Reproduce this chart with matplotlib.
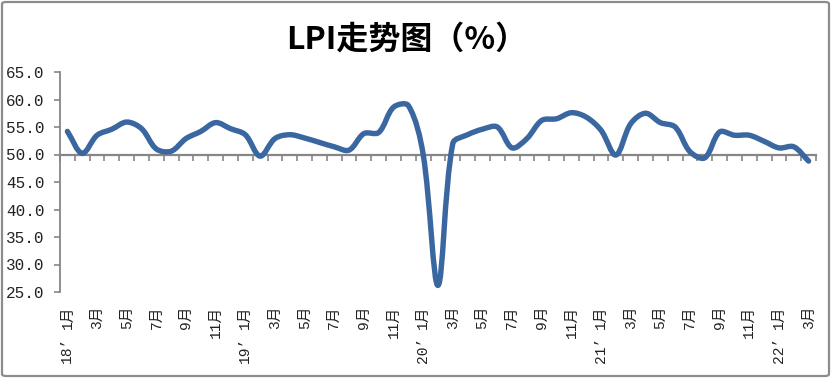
import matplotlib
matplotlib.use("Agg")
import matplotlib.pyplot as plt
import numpy as np
from matplotlib.path import Path
from matplotlib.patches import PathPatch, FancyBboxPatch

# ---------------- data ----------------
years = ["18", "19", "20", "21", "22"]
months_per_year = [12, 12, 12, 12, 3]
lpi = [54.2, 50.2, 53.5, 54.6, 55.9, 54.7, 51.0, 50.6, 52.9, 54.2, 55.8, 54.7,   # 2018
       53.6, 49.7, 52.9, 53.6, 53.0, 52.2, 51.4, 50.8, 53.8, 54.0, 58.6, 58.9,   # 2019
       50.0, 26.2, 52.0, 53.6, 54.6, 55.0, 51.2, 52.9, 56.2, 56.5, 57.6, 56.8,   # 2020
       54.4, 49.9, 55.6, 57.5, 55.8, 55.0, 50.5, 49.4, 54.1, 53.5, 53.5, 52.4,   # 2021
       51.2, 51.4, 48.8]                                                         # 2022
y_ticks = [25.0, 30.0, 35.0, 40.0, 45.0, 50.0, 55.0, 60.0, 65.0]
title = "LPI走势图（%）"

# category labels (odd months only) and year labels (at January)
month_labels = []
year_labels = []
for yy, n in zip(years, months_per_year):
    for m in range(1, n + 1):
        month_labels.append(f"{m}月" if m % 2 == 1 else "")
        year_labels.append(f"{yy}’" if m == 1 else "")

# ---------------- figure ----------------
W, H = 831, 378
fig = plt.figure(figsize=(W / 100, H / 100), dpi=100)
left, right = 60 / W, 816 / W
bottom, top = (H - 292) / H, (H - 72) / H
ax = fig.add_axes([left, bottom, right - left, top - bottom])

line_color = "#3A67A0"
axis_color = "#868686"

ax.set_xlim(-0.5, len(lpi) - 0.5)
ax.set_ylim(25, 65)

x = np.arange(len(lpi), dtype=float)
y = np.array(lpi, dtype=float)

# Excel-like smoothed line: Bezier through the points, with control
# distances scaled by neighbouring segment lengths (in screen space)
fig.canvas.draw()
scr = ax.transData.transform(np.column_stack([x, y]))
n = len(scr)
verts_scr = [scr[0]]
codes = [Path.MOVETO]
for i in range(n - 1):
    p0 = scr[i - 1] if i > 0 else scr[i]
    p1 = scr[i]
    p2 = scr[i + 1]
    p3 = scr[i + 2] if i + 2 < n else scr[i + 1]
    d01 = np.hypot(*(p1 - p0))
    d12 = np.hypot(*(p2 - p1))
    d23 = np.hypot(*(p3 - p2))
    t = 1.0 / 3.0
    c1 = p1 + (p2 - p0) * (t * d12 / (d01 + d12) if d01 + d12 > 0 else 0)
    c2 = p2 - (p3 - p1) * (t * d12 / (d12 + d23) if d12 + d23 > 0 else 0)
    verts_scr += [c1, c2, p2]
    codes += [Path.CURVE4, Path.CURVE4, Path.CURVE4]
verts = ax.transData.inverted().transform(np.array(verts_scr))
path = Path(verts, codes)
ax.add_patch(PathPatch(path, facecolor="none", edgecolor=line_color, lw=3.9,
                       capstyle="round", joinstyle="round", zorder=3))

# spines
for s in ["top", "right"]:
    ax.spines[s].set_visible(False)
ax.spines["left"].set_color(axis_color)
ax.spines["left"].set_linewidth(1.3)
ax.spines["bottom"].set_position(("data", 50))
ax.spines["bottom"].set_color(axis_color)
ax.spines["bottom"].set_linewidth(1.6)

# y ticks
ax.set_yticks(y_ticks)
ax.set_yticklabels([f"{v:.1f}" for v in y_ticks], family=["Liberation Mono"],
                   fontsize=11.5, color="#222222")
ax.tick_params(axis="y", direction="out", length=4, width=1.2, color=axis_color, pad=7)

# x ticks at category boundaries, labels drawn below the plot
ax.set_xticks(np.arange(-0.5, len(lpi), 1.0))
ax.set_xticklabels([])
ax.tick_params(axis="x", direction="out", length=4.5, width=1.2, color=axis_color)

px = 5.5  # pixels per y unit
month_y = 25 - 14 / px
year_y = 25 - 45 / px
for i, (ml, yl) in enumerate(zip(month_labels, year_labels)):
    if ml:
        ax.text(i, month_y, ml, rotation=90, ha="center", va="top",
                family=["Liberation Mono", "Noto Sans CJK SC"], fontsize=10.5,
                color="#222222", clip_on=False)
    if yl:
        ax.text(i, year_y, yl, rotation=90, ha="center", va="top",
                family=["Liberation Mono", "Noto Sans CJK SC"], fontsize=10.5,
                color="#222222", clip_on=False)

# title
fig.text(407 / W, 1 - 40 / H, title, ha="center", va="center",
         family=["Noto Sans CJK SC"], fontweight="bold", fontsize=23, color="#000000")

# outer border
fig.patches.append(FancyBboxPatch((2 / W, 2 / H), 1 - 4 / W, 1 - 4 / H,
                                  boxstyle="round,pad=0,rounding_size=0.005",
                                  transform=fig.transFigure, fill=False,
                                  edgecolor="#8C8C8C", lw=1.6))

fig.savefig("out.png", dpi=100)
